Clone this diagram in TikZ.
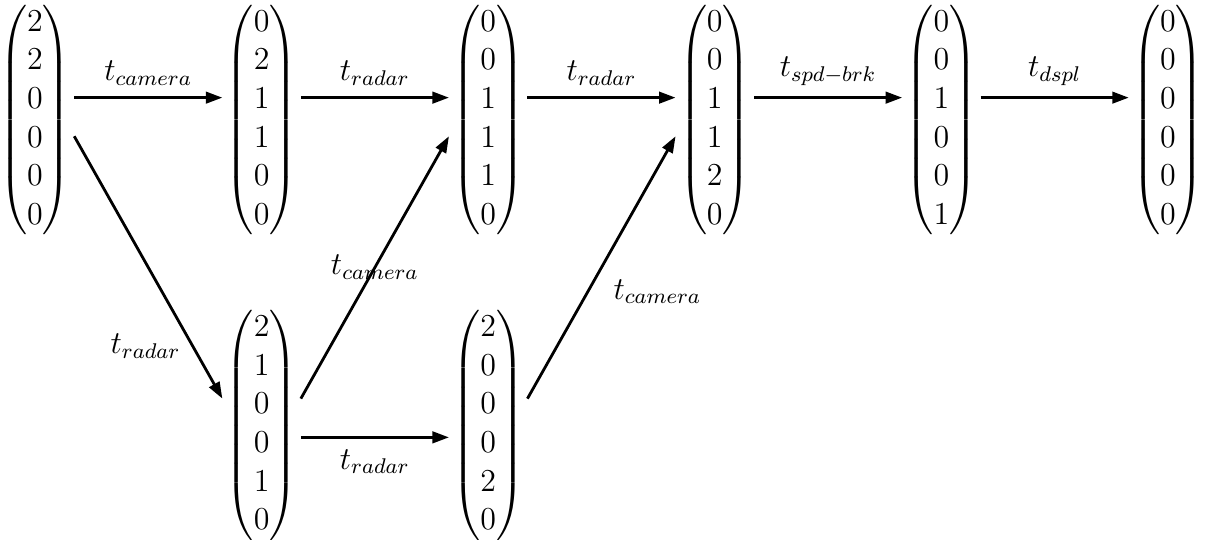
\documentclass[tikz,border=0pt,12pt]{standalone}
\usepackage{amsmath}
\usetikzlibrary{arrows.meta}
\begin{document}
\begin{tikzpicture}[x=0.3756pt,y=-0.3756pt,
  vec/.style={inner sep=1.1pt},
  arr/.style={line width=1.05pt,-{Triangle[length=6.2pt,width=4.3pt]}}]
\useasboundingbox (0,0) rectangle (1208,539);
\node[vec] (v1) at (35,120)   {$\begin{pmatrix}2\\2\\0\\0\\0\\0\end{pmatrix}$};
\node[vec] (v2) at (261.6,120) {$\begin{pmatrix}0\\2\\1\\1\\0\\0\end{pmatrix}$};
\node[vec] (v3) at (488.2,120) {$\begin{pmatrix}0\\0\\1\\1\\1\\0\end{pmatrix}$};
\node[vec] (v4) at (714.8,120) {$\begin{pmatrix}0\\0\\1\\1\\2\\0\end{pmatrix}$};
\node[vec] (v5) at (941.4,120) {$\begin{pmatrix}0\\0\\1\\0\\0\\1\end{pmatrix}$};
\node[vec] (v6) at (1168,120) {$\begin{pmatrix}0\\0\\0\\0\\0\\0\end{pmatrix}$};
\node[vec] (b1) at (261.6,425.5) {$\begin{pmatrix}2\\1\\0\\0\\1\\0\end{pmatrix}$};
\node[vec] (b2) at (488.2,425.5) {$\begin{pmatrix}2\\0\\0\\0\\2\\0\end{pmatrix}$};
\draw[arr] ([yshift=8.4pt]v1.east) -- node[above] {$t_{camera}$} ([yshift=8.4pt]v2.west);
\draw[arr] ([yshift=8.4pt]v2.east) -- node[above] {$t_{radar}$} ([yshift=8.4pt]v3.west);
\draw[arr] ([yshift=8.4pt]v3.east) -- node[above] {$t_{radar}$} ([yshift=8.4pt]v4.west);
\draw[arr] ([yshift=8.4pt]v4.east) -- node[above] {$t_{spd-brk}$} ([yshift=8.4pt]v5.west);
\draw[arr] ([yshift=8.4pt]v5.east) -- node[above] {$t_{dspl}$} ([yshift=8.4pt]v6.west);
\draw[arr] ([yshift=-6.1pt]v1.east) -- node[pos=0.8,anchor=east] {$t_{radar}$} ([yshift=10.1pt]b1.west);
\draw[arr] ([yshift=10.1pt]b1.east) -- node[midway] {$t_{camera}$} ([yshift=-6.1pt]v3.west);
\draw[arr] ([yshift=10.1pt]b2.east) -- node[midway,below right] {$t_{camera}$} ([yshift=-6.1pt]v4.west);
\draw[arr] ([yshift=-4.45pt]b1.east) -- node[below] {$t_{radar}$} ([yshift=-4.45pt]b2.west);
\end{tikzpicture}
\end{document}
